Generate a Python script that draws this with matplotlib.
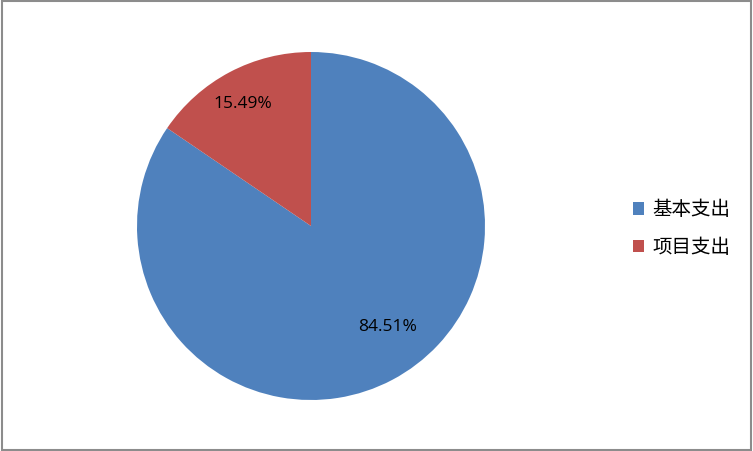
import matplotlib.pyplot as plt
from matplotlib.patches import Rectangle

plt.rcParams['font.family'] = ['Noto Sans CJK SC', 'DejaVu Sans']

# 数据
categories = ['基本支出', '项目支出']
shares = [84.51, 15.49]
colors = ['#4F81BD', '#C0504D']

fig = plt.figure(figsize=(7.53, 4.51), dpi=100)

# 外框
fig.patches.append(Rectangle((0.002, 0.002), 0.995, 0.995, transform=fig.transFigure,
                             fill=False, edgecolor='#8c8c8c', linewidth=1.5))

ax = fig.add_axes([137 / 753, 51 / 451, 348 / 753, 348 / 451])
wedges, texts, autotexts = ax.pie(shares, colors=colors, startangle=90, counterclock=False,
                                  autopct='%.2f%%', pctdistance=0.8,
                                  wedgeprops={'linewidth': 0},
                                  textprops={'fontsize': 12.5, 'family': 'Open Sans', 'color': 'black'})
# 标签位置微调(Excel 风格)
autotexts[0].set_position((0.44, -0.58))
autotexts[1].set_position((-0.39, 0.70))
ax.set_xlim(-1, 1)
ax.set_ylim(-1, 1)
ax.set_aspect('equal')

fig.legend(wedges, categories, loc='center left', bbox_to_anchor=(0.817, 0.493),
           frameon=False, fontsize=14, handlelength=0.6, handleheight=0.6,
           handletextpad=0.4, labelspacing=0.85)

plt.savefig('out.png', dpi=100)
